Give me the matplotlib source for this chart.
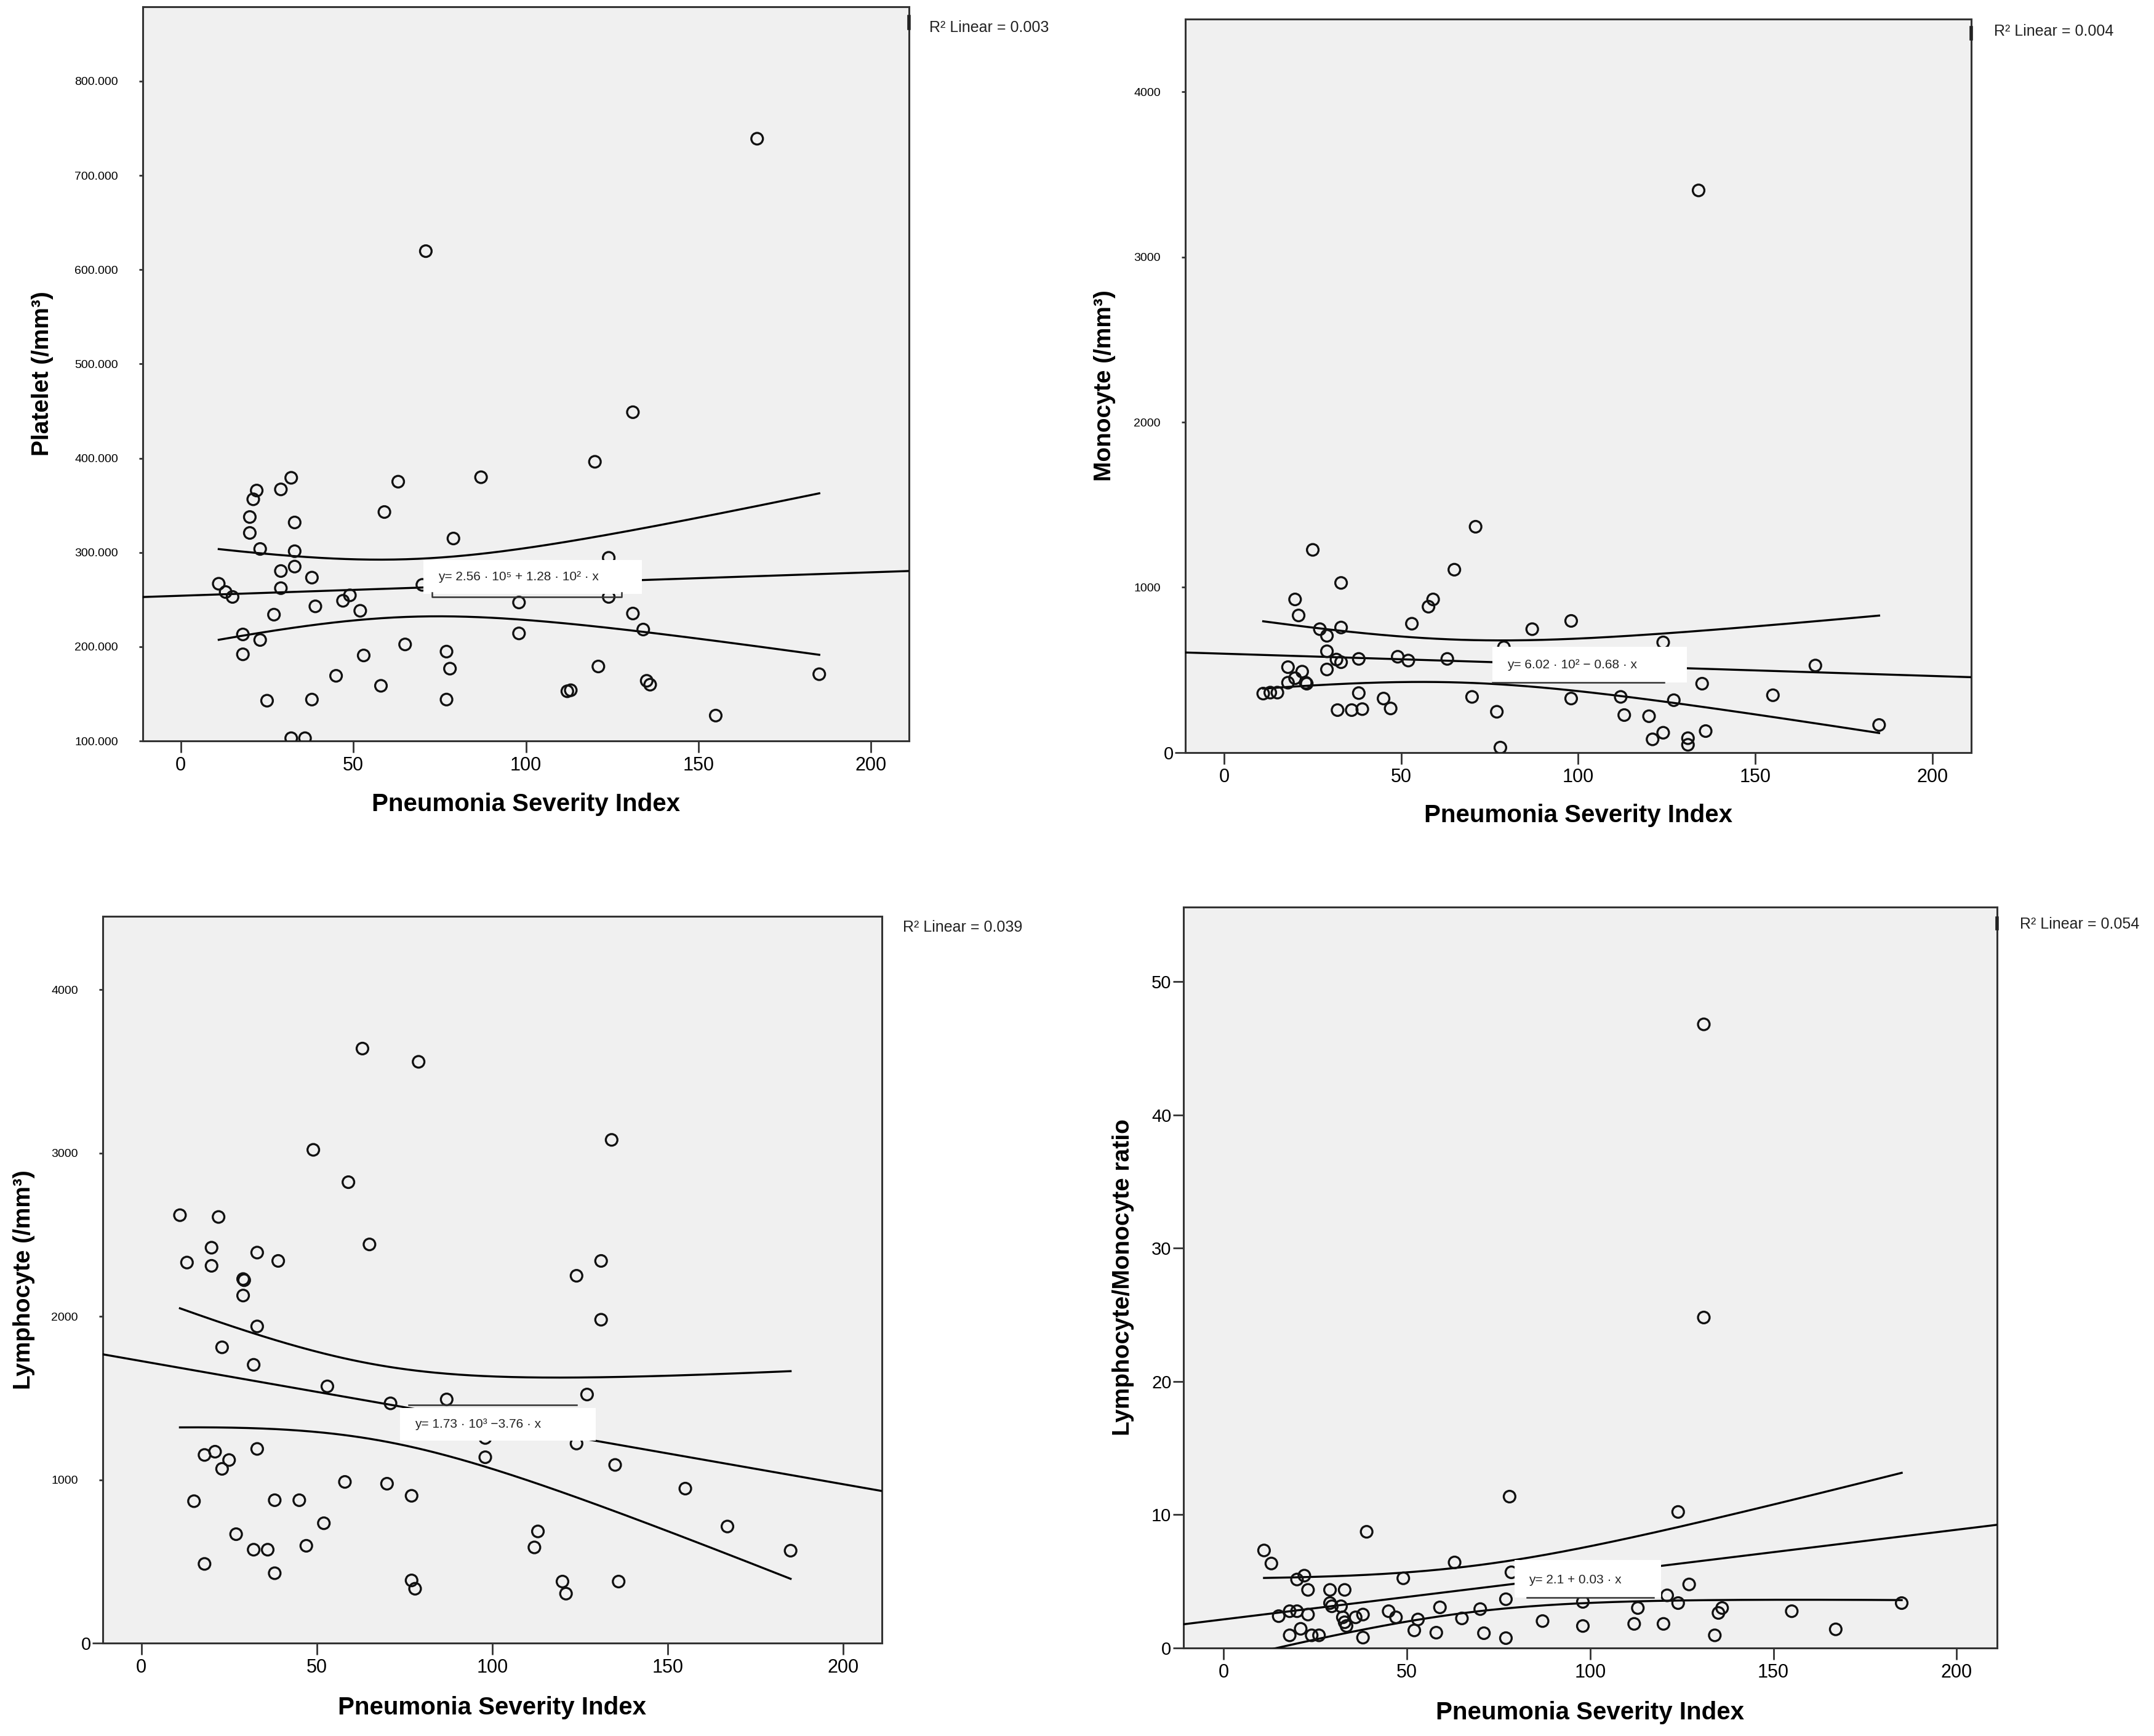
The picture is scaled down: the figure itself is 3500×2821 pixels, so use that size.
import numpy as np
import matplotlib
matplotlib.use("Agg")
import matplotlib.pyplot as plt
from matplotlib.patches import Rectangle
from matplotlib.lines import Line2D

plt.rcParams["font.family"] = ["Liberation Sans", "DejaVu Sans"]

# ---- data ----
psi_platelet = [167, 71, 131, 120, 32, 63, 87, 22, 29, 21, 20, 59, 33, 20, 79, 23, 33, 124,
                33, 29, 38, 11, 29, 70, 13, 15, 49, 47, 39, 52, 98, 27, 131, 124, 134, 18,
                98, 23, 65, 18, 77, 53, 121, 78, 185, 45, 112, 113, 135, 136, 58, 25, 38,
                77, 155, 32, 36]
platelet = [739000, 619700, 448800, 396200, 379200, 375100, 379800, 365700, 366900, 356400,
            337600, 342900, 331800, 320700, 314800, 303700, 301300, 294300, 285000, 280300,
            273300, 266800, 262100, 265600, 258000, 252800, 254500, 248700, 242800, 238100,
            246900, 234000, 235200, 252800, 218200, 213000, 214100, 207100, 202400, 191900,
            194800, 190700, 179000, 176700, 170800, 169100, 152700, 153800, 163800, 159700,
            158500, 142700, 143900, 143900, 126900, 102900, 102900]

psi_monocyte = [134, 71, 25, 65, 33, 20, 59, 57.7, 21, 98, 53, 33, 27, 87, 29, 124, 79, 29,
                38, 49, 52, 63, 31.7, 33, 167, 18, 22, 29, 20, 18, 23, 23.3, 135, 38, 11, 13,
                15, 155, 112, 70, 98, 45, 127, 32, 36, 39, 47, 77, 113, 120, 185, 136, 124,
                121, 131, 131, 78]
monocyte = [3403, 1367, 1227, 1107, 1027, 927, 927, 883, 830, 797, 780, 757, 747, 747, 707,
            667, 637, 613, 567, 580, 557, 567, 563, 547, 527, 517, 490, 503, 450, 423, 423,
            417, 417, 360, 357, 363, 363, 347, 337, 337, 327, 327, 317, 257, 257, 263, 267,
            247, 227, 220, 167, 130, 120, 80, 87, 47, 30]

psi_lymphocyte = [63, 79, 134, 49, 59, 11, 22, 65, 20, 33, 13, 39, 131, 20, 29, 29.3, 124,
                  29, 33, 131, 23, 32, 53, 127, 87, 71, 98, 124, 33, 21, 18, 98, 25, 23, 135,
                  58, 70, 155, 77, 38, 45, 15, 52, 167, 113, 27, 47, 112, 32, 36, 185, 18, 38,
                  77, 120, 136, 78, 121]
lymphocyte = [3640, 3559, 3081, 3020, 2822, 2620, 2609, 2441, 2421, 2391, 2330, 2340, 2340,
              2310, 2229, 2222, 2249, 2128, 1939, 1980, 1811, 1704, 1572, 1522, 1492, 1468,
              1256, 1222, 1189, 1172, 1152, 1138, 1121, 1067, 1091, 987, 976, 946, 902, 875,
              875, 869, 734, 714, 684, 667, 596, 586, 572, 572, 566, 485, 428, 384, 377, 377,
              333, 303]

psi_lmr = [131, 131, 78, 124, 39, 11, 13, 63, 22, 20, 49, 78.5, 127, 29, 33, 23, 121, 77,
           98, 124, 185, 29, 32, 59, 113, 136, 70, 29.5, 18, 20, 45, 155, 135, 23, 38, 15, 36,
           47, 32.5, 65, 53, 33, 87, 33.5, 98, 112, 120, 21, 52, 167, 58, 71, 18, 24, 26, 134,
           38, 77]
lmr = [46.8, 24.8, 11.36, 10.21, 8.72, 7.32, 6.34, 6.42, 5.43, 5.14, 5.23, 5.68, 4.77, 4.36,
       4.36, 4.36, 3.95, 3.66, 3.46, 3.37, 3.37, 3.37, 3.13, 3.05, 3.0, 3.0, 2.92, 3.13, 2.76,
       2.76, 2.76, 2.76, 2.63, 2.51, 2.51, 2.39, 2.3, 2.3, 2.3, 2.22, 2.14, 1.93, 2.02, 1.65,
       1.65, 1.81, 1.81, 1.44, 1.32, 1.4, 1.15, 1.11, 0.95, 0.95, 0.95, 0.95, 0.78, 0.74]

x_ticks = [0, 50, 100, 150, 200]
platelet_ticks = [100000, 200000, 300000, 400000, 500000, 600000, 700000, 800000]
platelet_tick_labels = ["100.000", "200.000", "300.000", "400.000", "500.000", "600.000",
                        "700.000", "800.000"]
count_ticks = [1000, 2000, 3000, 4000]
lmr_ticks = [0, 10, 20, 30, 40, 50]

x_lim = (-11, 211)
T_CRIT = 2.0
LINE = "#000000"
FRAME = "#333333"
BG = "#f0f0f0"

panels = [
    dict(x=psi_platelet, y=platelet, ylabel="Platelet (/mm³)", ylim=(100000, 879000),
         pos=[0.0663, 0.5732, 0.3557, 0.4229], ylab_x=-0.131, xlab_y=-0.086,
         ticks=platelet_ticks, tick_labels=platelet_tick_labels, small=True, zero=False,
         r2="R² Linear = 0.003", r2_pos=(0.4314, 0.9840), mark=(0.9838, 0.9904),
         eq="y= 2.56 · 10⁵ + 1.28 · 10² · x", box=(70.3, 256000, 63.3, 36000), eq_xy=(74.6, 274000),
         leader=[(72.8, 257300), (72.8, 252700), (127.7, 252700), (127.7, 257300)]),
    dict(x=psi_monocyte, y=monocyte, ylabel="Monocyte (/mm³)", ylim=(0, 4440),
         pos=[0.5503, 0.5665, 0.3648, 0.4225], ylab_x=-0.103, xlab_y=-0.086,
         ticks=count_ticks, tick_labels=None, small=True, zero=True,
         r2="R² Linear = 0.004", r2_pos=(0.9257, 0.9819), mark=(0.9777, 0.9840),
         eq="y= 6.02 · 10² − 0.68 · x", box=(75.7, 423, 55.0, 217), eq_xy=(80.0, 530),
         leader=[(75.7, 423), (124.3, 423)]),
    dict(x=psi_lymphocyte, y=lymphocyte, ylabel="Lymphocyte (/mm³)", ylim=(0, 4450),
         pos=[0.0477, 0.0535, 0.3617, 0.4187], ylab_x=-0.101, xlab_y=-0.089,
         ticks=count_ticks, tick_labels=None, small=True, zero=True,
         r2="R² Linear = 0.039", r2_pos=(0.4191, 0.4658), mark=None,
         eq="y= 1.73 · 10³ −3.76 · x", box=(73.7, 1239, 55.7, 202), eq_xy=(78.0, 1340),
         leader=[(76.2, 1458), (124.1, 1458)]),
    dict(x=psi_lmr, y=lmr, ylabel="Lymphocyte/Monocyte ratio", ylim=(0, 55.6),
         pos=[0.5494, 0.0507, 0.3777, 0.4268], ylab_x=-0.074, xlab_y=-0.087,
         ticks=lmr_ticks, tick_labels=None, small=False, zero=False,
         r2="R² Linear = 0.054", r2_pos=(0.9377, 0.4676), mark=(0.4650, 0.4711),
         eq="y= 2.1 + 0.03 · x", box=(79.4, 3.79, 39.9, 2.79), eq_xy=(83.2, 5.1),
         leader=[(82.8, 3.79), (117.4, 3.79)]),
]

fig = plt.figure(figsize=(17.5, 14.105), dpi=200)

for p in panels:
    ax = fig.add_axes(p["pos"])
    ax.set_facecolor(BG)
    x = np.array(p["x"], dtype=float)
    y = np.array(p["y"], dtype=float)

    # least squares fit and 95% confidence band of the mean
    slope, intercept = np.polyfit(x, y, 1)
    n = len(x)
    resid = y - (intercept + slope * x)
    s = np.sqrt(np.sum(resid ** 2) / (n - 2))
    sxx = np.sum((x - x.mean()) ** 2)
    xl = np.linspace(x_lim[0], x_lim[1], 50)
    ax.plot(xl, intercept + slope * xl, color=LINE, lw=1.2, zorder=3)
    xb = np.linspace(x.min(), x.max(), 200)
    half = T_CRIT * s * np.sqrt(1 / n + (xb - x.mean()) ** 2 / sxx)
    ax.plot(xb, intercept + slope * xb + half, color=LINE, lw=1.2, zorder=3)
    ax.plot(xb, intercept + slope * xb - half, color=LINE, lw=1.2, zorder=3)

    ax.scatter(x, y, s=46, facecolors="none", edgecolors="#111111", linewidths=1.2, zorder=4)

    # equation label
    bx, by, bw, bh = p["box"]
    ax.add_patch(Rectangle((bx, by), bw, bh, facecolor="white", edgecolor="none", zorder=5))
    ax.text(p["eq_xy"][0], p["eq_xy"][1], p["eq"], fontsize=7.5, ha="left", va="center",
            color="#222222", zorder=6)
    lx, ly = zip(*p["leader"])
    ax.plot(lx, ly, color="#333333", lw=0.9, zorder=6)

    ax.set_xlim(*x_lim)
    ax.set_ylim(*p["ylim"])
    ax.set_xticks(x_ticks)
    ax.tick_params(axis="x", labelsize=11, length=7, width=1.0, pad=2, color=FRAME)
    if p["tick_labels"] is not None:
        ax.set_yticks(p["ticks"], labels=p["tick_labels"])
    else:
        ax.set_yticks(p["ticks"])
    if p["small"]:
        ax.tick_params(axis="y", which="major", labelsize=7, length=2, width=1.0, pad=12.5,
                       color=FRAME)
    else:
        ax.tick_params(axis="y", which="major", labelsize=10.5, length=6, width=1.0, pad=1,
                       color=FRAME)
    if p["zero"]:
        ax.set_yticks([0], labels=["0"], minor=True)
        ax.tick_params(axis="y", which="minor", labelsize=10.5, length=6, width=1.0, pad=1,
                       color=FRAME)

    for sp in ax.spines.values():
        sp.set_color(FRAME)
        sp.set_linewidth(1.1)

    ax.set_xlabel("Pneumonia Severity Index", fontsize=14.5, fontweight="bold")
    ax.xaxis.set_label_coords(0.5, p["xlab_y"])
    ax.xaxis.label.set_va("center")
    ax.set_ylabel(p["ylabel"], fontsize=14, fontweight="bold")
    ax.yaxis.set_label_coords(p["ylab_x"], 0.5)
    ax.yaxis.label.set_va("center")

    fig.text(p["r2_pos"][0], p["r2_pos"][1], p["r2"], fontsize=9, ha="left", va="center",
             color="#222222")
    if p["mark"] is not None:
        right = p["pos"][0] + p["pos"][2]
        fig.add_artist(Line2D([right, right], list(p["mark"]), color="#222222", lw=2.0))

fig.savefig("out.png", dpi=200)
